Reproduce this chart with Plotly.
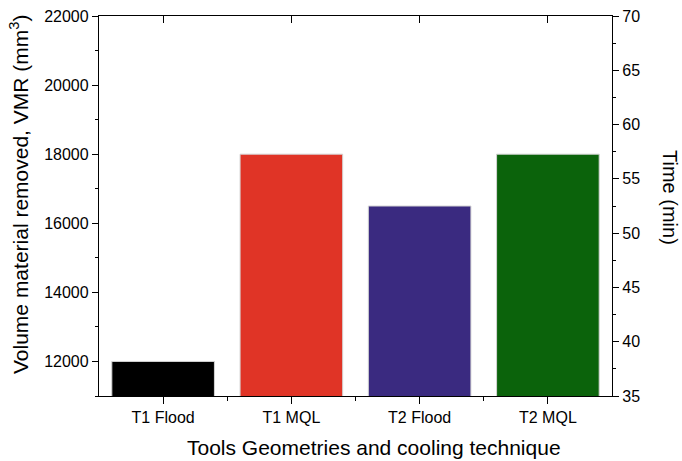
import plotly.graph_objects as go

categories = ["T1 Flood", "T1 MQL", "T2 Flood", "T2 MQL"]
vmr_values = [12000, 18000, 16500, 18000]
bar_colors = ["#000000", "#e03426", "#3a2a80", "#0b630b"]
left_ticks = [12000, 14000, 16000, 18000, 20000, 22000]
right_ticks = [35, 40, 45, 50, 55, 60, 65, 70]

xpos = list(range(len(categories)))
font = "Liberation Sans, Arial, sans-serif"

fig = go.Figure()
fig.add_trace(go.Bar(
    x=xpos, y=vmr_values, width=0.8,
    marker=dict(color=bar_colors, line=dict(color="#d4d4d4", width=1)),
    showlegend=False, hoverinfo="skip",
))
fig.add_trace(go.Scatter(x=xpos, y=[None]*4, yaxis="y2", xaxis="x", showlegend=False))
fig.add_trace(go.Scatter(x=xpos, y=[None]*4, yaxis="y", xaxis="x2", showlegend=False))

axis_common = dict(showline=True, linecolor="black", linewidth=1.3, showgrid=False, zeroline=False,
                   automargin=False, tickcolor="black",
                   tickfont=dict(family=font, size=16, color="black"))

title_font = dict(family=font, size=21, color="black")

fig.update_layout(
    width=682, height=461,
    margin=dict(l=99, r=70, t=16, b=65, autoexpand=False),
    plot_bgcolor="white", paper_bgcolor="white",
    font=dict(family=font, color="black"),
    xaxis=dict(
        **axis_common, range=[-0.5, 3.5], tickmode="array", tickvals=xpos, ticktext=categories,
        ticks="outside", ticklen=7, tickwidth=1.2,
        minor=dict(tickmode="array", tickvals=[0.5, 1.5, 2.5], ticks="outside", ticklen=4, tickcolor="black", tickwidth=1.2),
    ),
    xaxis2=dict(
        **axis_common, range=[-0.5, 3.5], overlaying="x", side="top", anchor="y",
        tickmode="array", tickvals=xpos, ticks="inside", ticklen=7, tickwidth=1.2, showticklabels=False,
    ),
    yaxis=dict(
        **axis_common, range=[11000, 22000], tickmode="array", tickvals=left_ticks,
        ticktext=[str(v) for v in left_ticks],
        ticks="outside", ticklen=6, tickwidth=1.2,
        minor=dict(tickmode="array", tickvals=[11000, 13000, 15000, 17000, 19000, 21000], ticks="outside", ticklen=3, tickcolor="black", tickwidth=1.2),
    ),
    yaxis2=dict(
        **axis_common, range=[35, 70], overlaying="y", side="right", anchor="x",
        tickmode="array", tickvals=right_ticks, ticktext=[str(v) for v in right_ticks],
        ticks="outside", ticklen=6, tickwidth=1.2,
        minor=dict(tickmode="array", tickvals=[37.5, 42.5, 47.5, 52.5, 57.5, 62.5, 67.5], ticks="outside", ticklen=3, tickcolor="black", tickwidth=1.2),
    ),
    annotations=[
        dict(text="Tools Geometries and cooling technique", xref="paper", yref="paper",
             x=(374 - 99) / 513, y=(396 - 447) / 380, xanchor="center", yanchor="middle",
             showarrow=False, font=title_font),
        dict(text="Volume material removed, VMR (mm<sup>3</sup>)", textangle=-90, xref="paper", yref="paper",
             x=(19 - 99) / 513, y=(396 - 195) / 380, xanchor="center", yanchor="middle",
             showarrow=False, font=title_font),
        dict(text="Time (min)", textangle=90, xref="paper", yref="paper",
             x=(670 - 99) / 513, y=(396 - 197) / 380, xanchor="center", yanchor="middle",
             showarrow=False, font=dict(family=font, size=20, color="black")),
    ],
)

fig.write_html("out.html", post_script="document.body.style.margin='0';",
               config={"displayModeBar": False})
